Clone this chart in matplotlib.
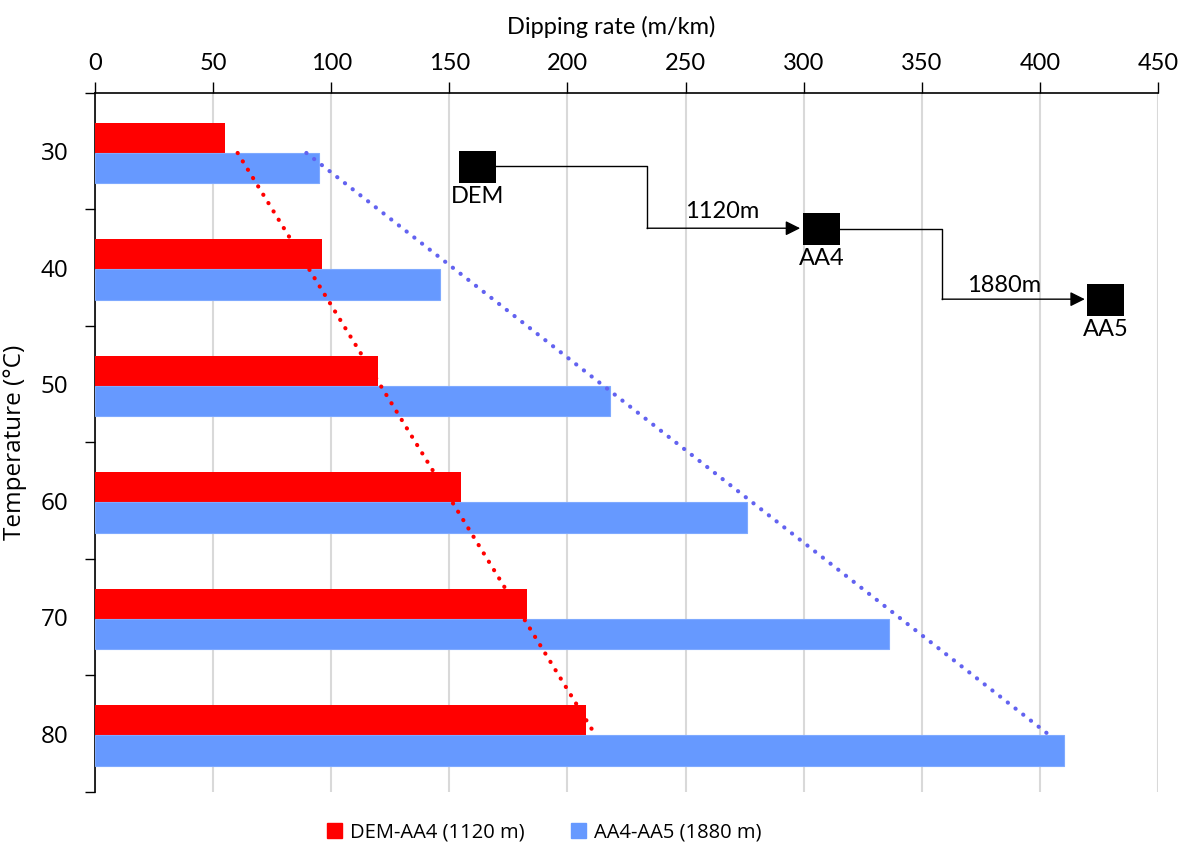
import numpy as np  # arrays and trend fit
import matplotlib
matplotlib.use("Agg")  # no display in the sandbox
import matplotlib.pyplot as plt
from matplotlib.patches import Patch, Rectangle

# Data
temperaturas = ["30", "40", "50", "60", "70", "80"]  # categories (°C)
dem_aa4 = [55, 96, 120, 155, 183, 208]  # DEM-AA4 dipping rate (m/km)
aa4_aa5 = [95, 146, 218, 276, 336, 410]  # AA4-AA5 dipping rate (m/km)
nome_serie1 = "DEM-AA4 (1120 m)"
nome_serie2 = "AA4-AA5 (1880 m)"
x_ticks = [0, 50, 100, 150, 200, 250, 300, 350, 400, 450]

vermelho = "#FF0000"
azul = "#6699FF"
azul_tendencia = "#6262F0"

fonte_estreita = ["Lato", "DejaVu Sans"]  # x axis and sketch text (narrow look)
fonte_larga = ["Open Sans", "DejaVu Sans"]  # y axis and legend text
plt.rcParams["font.family"] = fonte_estreita

fig = plt.figure(figsize=(11.83, 8.56), dpi=100)
ax = fig.add_axes([0.0803, 0.0748, 0.8986, 0.8166])

y = np.arange(len(temperaturas))  # category positions
altura = 0.258  # bar thickness
desloc = 0.015  # small offset of the bar pair

ax.barh(y - altura / 2 + desloc, dem_aa4, height=altura, color=vermelho, zorder=3)
ax.barh(y + altura / 2 + desloc, aa4_aa5, height=altura, color=azul,
        edgecolor="#7FAAFF", linewidth=0.8, zorder=3)

# Linear trend lines (like Excel's) fitted to each series
for valores, cor in [(dem_aa4, vermelho), (aa4_aa5, azul_tendencia)]:
    a, b = np.polyfit(y, valores, 1)
    ax.plot([b, a * y[-1] + b], [y[0] + desloc, y[-1] + desloc], color=cor,
            linestyle=(0, (0.05, 2.3)), linewidth=3.0, dash_capstyle="round", zorder=4)

# Axes formatting
ax.set_xlim(0, 450)
ax.set_ylim(len(temperaturas) - 0.5, -0.5)
ax.xaxis.tick_top()
ax.xaxis.set_label_position("top")
ax.set_xticks(x_ticks)
ax.set_xticklabels([str(v) for v in x_ticks], fontsize=17)
ax.tick_params(axis="x", direction="out", length=8, width=1, pad=6)
ax.set_xlabel("Dipping rate (m/km)", fontsize=17)
ax.xaxis.set_label_coords(0.486, 1.085)

ax.set_yticks(y)
ax.set_yticklabels(temperaturas, fontsize=17.5, family=fonte_larga)
ax.set_yticks(np.arange(-0.5, len(temperaturas)), minor=True)
ax.tick_params(axis="y", which="major", length=0, pad=19)
ax.tick_params(axis="y", which="minor", direction="out", length=7, width=1)
ax.set_ylabel("Temperature (°C)", fontsize=17.5, family=fonte_larga)
ax.yaxis.set_label_coords(-0.064, 0.5)

ax.grid(axis="x", color="#D9D9D9", linewidth=1.5, zorder=0)
ax.set_axisbelow(True)
for lado in ["right", "bottom"]:
    ax.spines[lado].set_visible(False)
ax.spines["top"].set_linewidth(1.2)
ax.spines["left"].set_linewidth(1.2)

# Well sketch: DEM -> AA4 -> AA5 (positions in data units)
quadrados = {"DEM": (154.1, 0.0), "AA4": (299.7, 0.532), "AA5": (420.0, 1.142)}
lado_x, lado_y = 15.6, 0.272
for nome, (qx, qy) in quadrados.items():
    ax.add_patch(Rectangle((qx, qy), lado_x, lado_y, facecolor="black", zorder=5))
    ax.text(qx + lado_x / 2, qy + lado_y + 0.03, nome, ha="center", va="top", fontsize=17, zorder=5)

# Connector 1: DEM -> AA4
ax.plot([169.8, 233.7, 233.7], [0.129, 0.129, 0.661], color="black", linewidth=1, zorder=5)
ax.annotate("", xy=(298.5, 0.661), xytext=(233.7, 0.661),
            arrowprops=dict(arrowstyle="-|>", mutation_scale=22, color="black", lw=1,
                            shrinkA=0, shrinkB=0), zorder=5)
ax.text(265.5, 0.61, "1120m", ha="center", va="bottom", fontsize=17, zorder=5)

# Connector 2: AA4 -> AA5
ax.plot([315.3, 358.6, 358.6], [0.67, 0.67, 1.27], color="black", linewidth=1, zorder=5)
ax.annotate("", xy=(419.0, 1.27), xytext=(358.6, 1.27),
            arrowprops=dict(arrowstyle="-|>", mutation_scale=22, color="black", lw=1,
                            shrinkA=0, shrinkB=0), zorder=5)
ax.text(384.8, 1.245, "1880m", ha="center", va="bottom", fontsize=17, zorder=5)

# Legend at the bottom
alcas = [Patch(color=vermelho, label=nome_serie1), Patch(color=azul, label=nome_serie2)]
fig.legend(handles=alcas, loc="center", bbox_to_anchor=(0.46, 0.027), ncol=2, frameon=False,
           prop={"family": fonte_larga, "size": 14.5}, handlelength=0.75, handleheight=0.75,
           handletextpad=0.4, columnspacing=2.3)

fig.savefig("out.png", dpi=100)
